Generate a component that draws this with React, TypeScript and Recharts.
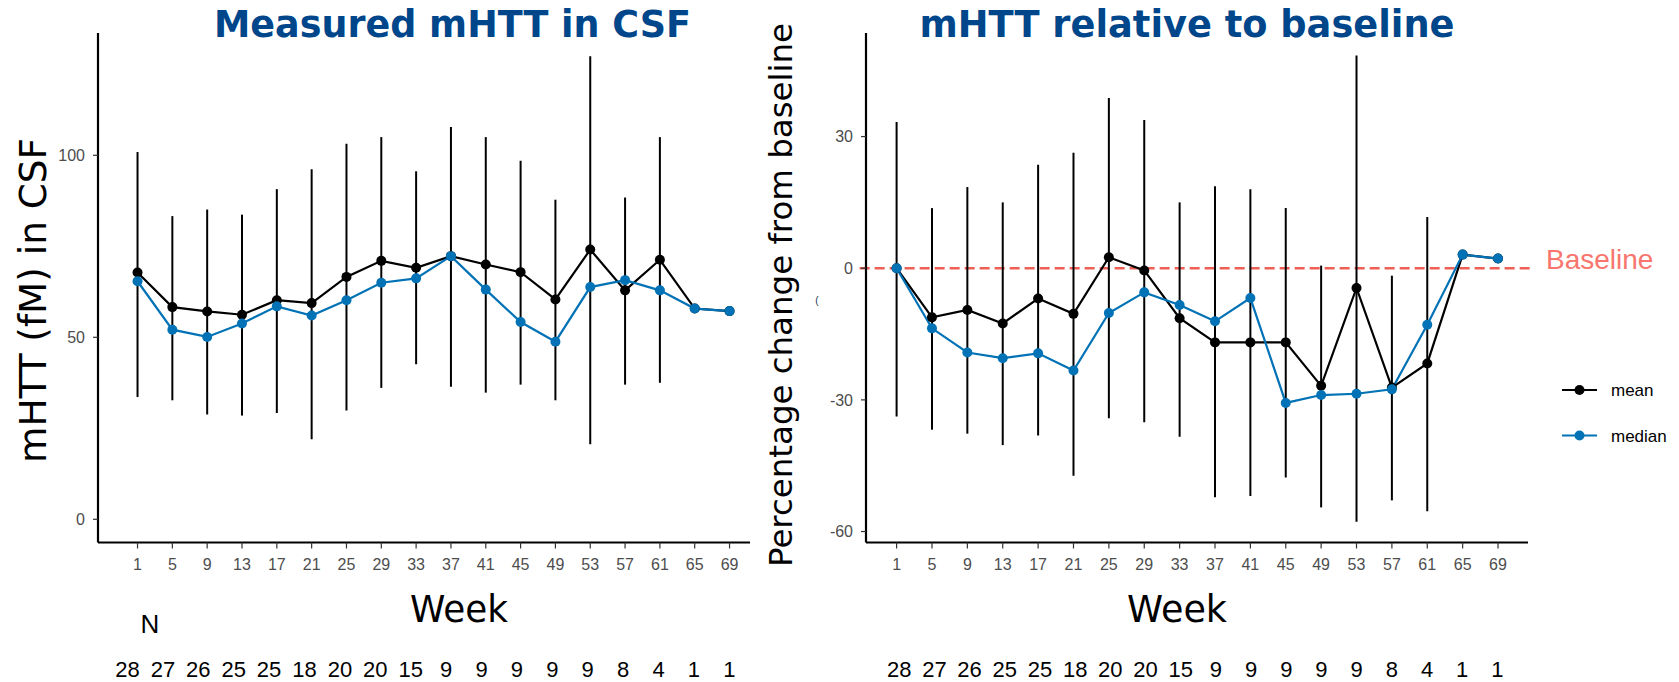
import React from 'react';
import { LineChart, Line, XAxis, YAxis, ErrorBar, ReferenceLine } from 'recharts';

// ---------- data ----------
const weeks = [1, 5, 9, 13, 17, 21, 25, 29, 33, 37, 41, 45, 49, 53, 57, 61, 65, 69];
const nCounts = [28, 27, 26, 25, 25, 18, 20, 20, 15, 9, 9, 9, 9, 9, 8, 4, 1, 1];

// left panel: measured mHTT (fM)
const absMean = [67.8, 58.3, 57.1, 56.2, 60.2, 59.4, 66.6, 71.0, 69.1, 72.3, 70.0, 67.9, 60.4, 74.1, 62.9, 71.3, 57.9, 57.2];
const absMedian = [65.4, 52.1, 50.1, 53.8, 58.5, 56.0, 60.2, 65.0, 66.2, 72.3, 63.1, 54.2, 48.8, 63.8, 65.7, 62.9, 57.9, 57.2];
const absUpper = [100.9, 83.3, 85.1, 83.7, 90.7, 96.2, 103.2, 105.0, 95.6, 107.8, 105.0, 98.5, 87.8, 127.2, 88.4, 105.0, null, null];
const absLower = [33.6, 32.7, 28.8, 28.5, 29.2, 22.0, 29.9, 36.1, 42.6, 36.4, 34.8, 37.0, 32.7, 20.6, 37.0, 37.5, null, null];

// right panel: percentage change from baseline
const relMean = [0, -11.2, -9.5, -12.6, -6.9, -10.4, 2.5, -0.5, -11.4, -16.9, -16.9, -16.9, -26.8, -4.5, -27.2, -21.7, 3.1, 2.2];
const relMedian = [0, -13.7, -19.2, -20.5, -19.4, -23.3, -10.2, -5.5, -8.4, -12.1, -6.8, -30.7, -28.9, -28.6, -27.6, -12.9, 3.1, 2.2];
const relUpper = [33.3, 13.7, 18.5, 15.0, 23.6, 26.3, 38.8, 33.8, 15.0, 18.7, 18.0, 13.7, 0.6, 48.5, -1.7, 11.7, null, null];
const relLower = [-33.8, -36.8, -37.7, -40.3, -38.1, -47.3, -34.2, -35.1, -38.4, -52.2, -51.9, -47.7, -54.5, -57.8, -52.9, -55.4, null, null];

const absTicks = [0, 50, 100];
const relTicks = [-60, -30, 0, 30];
const seriesNames = ['mean', 'median'];
const seriesColors = ['#000000', '#0072B5'];
const baselineSpan = [-3.18, 72.73];

const titles = ['Measured mHTT in CSF', 'mHTT relative to baseline'];
const yTitles = ['mHTT (fM) in CSF', 'Percentage change from baseline'];
const xTitle = 'Week';
const baselineText = 'Baseline';

// ---------- tables ----------
const buildTable = (mean: number[], median: number[], upper: (number | null)[], lower: (number | null)[]) =>
  weeks.map((w, i) => ({
    week: w,
    mean: mean[i],
    median: median[i],
    err: upper[i] == null || lower[i] == null ? null : [mean[i] - (lower[i] as number), (upper[i] as number) - mean[i]],
  }));

const absData = buildTable(absMean, absMedian, absUpper, absLower);
const relData = buildTable(relMean, relMedian, relUpper, relLower);

const TICK_FONT = { fill: '#4D4D4D', fontSize: 16, fontFamily: 'Liberation Sans, Arial, sans-serif' };
const SANS = 'Liberation Sans, Arial, sans-serif';
const DEJAVU = 'DejaVu Sans, Verdana, sans-serif';

const Panel = ({ data, width, margin, xDomain, yDomain, yTicks, baseline }: any) => (
  <LineChart width={width} height={682} data={data} margin={margin}>
    <XAxis
      dataKey="week"
      type="number"
      domain={xDomain}
      ticks={weeks}
      interval={0}
      allowDataOverflow
      height={40}
      tick={TICK_FONT}
      tickSize={6}
      tickMargin={10}
      tickLine={{ stroke: '#333333', strokeWidth: 1.2 }}
      axisLine={{ stroke: '#000000', strokeWidth: 2.2 }}
    />
    <YAxis
      type="number"
      domain={yDomain}
      ticks={yTicks}
      interval={0}
      allowDataOverflow
      width={60}
      tick={TICK_FONT}
      tickSize={5}
      tickMargin={8}
      tickLine={{ stroke: '#333333', strokeWidth: 1.2 }}
      axisLine={{ stroke: '#000000', strokeWidth: 2.2 }}
    />
    {baseline ? (
      <ReferenceLine
        segment={[{ x: baselineSpan[0], y: 0 }, { x: baselineSpan[1], y: 0 }]}
        stroke="#EE5F55"
        strokeWidth={2.5}
        strokeDasharray="10 5"
        ifOverflow="visible"
      />
    ) : null}
    <Line
      dataKey="mean"
      name={seriesNames[0]}
      stroke={seriesColors[0]}
      strokeWidth={2.2}
      dot={{ r: 5, fill: seriesColors[0], stroke: 'none' }}
      activeDot={false}
      isAnimationActive={false}
    >
      <ErrorBar dataKey="err" direction="y" width={0} stroke="#000000" strokeWidth={2} />
    </Line>
    <Line
      dataKey="median"
      name={seriesNames[1]}
      stroke={seriesColors[1]}
      strokeWidth={2.2}
      dot={{ r: 5, fill: seriesColors[1], stroke: 'none' }}
      activeDot={false}
      isAnimationActive={false}
    />
  </LineChart>
);

const Overlay = () => {
  const leftN = nCounts.map((n, i) => ({ n, x: 127.5 + i * 35.4 }));
  const rightN = nCounts.map((n, i) => ({ n, x: 899.2 + i * 35.19 }));
  return (
    <svg width={1679} height={682} style={{ position: 'absolute', left: 0, top: 0, pointerEvents: 'none' }}>
      {/* titles */}
      <text x={452.5} y={36.5} textAnchor="middle" fontFamily={DEJAVU} fontWeight="bold" fontSize={36.5} fill="#00468B" textLength={477} lengthAdjust="spacingAndGlyphs">
        {titles[0]}
      </text>
      <text x={1187} y={36.5} textAnchor="middle" fontFamily={DEJAVU} fontWeight="bold" fontSize={36.5} fill="#00468B" textLength={535} lengthAdjust="spacingAndGlyphs">
        {titles[1]}
      </text>
      {/* y axis titles */}
      <text transform="translate(46,300.5) rotate(-90)" textAnchor="middle" fontFamily={DEJAVU} fontSize={37} fill="#000" textLength={325} lengthAdjust="spacingAndGlyphs">
        {yTitles[0]}
      </text>
      <text transform="translate(792,295) rotate(-90)" textAnchor="middle" fontFamily={DEJAVU} fontSize={32} fill="#000" textLength={544} lengthAdjust="spacingAndGlyphs">
        {yTitles[1]}
      </text>
      <text x={817} y={304} textAnchor="middle" fontFamily={SANS} fontSize={10} fill="#22334a">(</text>
      {/* x axis titles */}
      <text x={459} y={622} textAnchor="middle" fontFamily={DEJAVU} fontSize={37} fill="#000" textLength={98} lengthAdjust="spacingAndGlyphs">
        {xTitle}
      </text>
      <text x={1177} y={622} textAnchor="middle" fontFamily={DEJAVU} fontSize={37} fill="#000" textLength={100} lengthAdjust="spacingAndGlyphs">
        {xTitle}
      </text>
      {/* N labels */}
      <text x={150} y={633} textAnchor="middle" fontFamily={SANS} fontSize={26} fill="#000">N</text>
      {leftN.map((d, i) => (
        <text key={'l' + i} x={d.x} y={676.5} textAnchor="middle" fontFamily={SANS} fontSize={22} fill="#000">{d.n}</text>
      ))}
      {rightN.map((d, i) => (
        <text key={'r' + i} x={d.x} y={676.5} textAnchor="middle" fontFamily={SANS} fontSize={22} fill="#000">{d.n}</text>
      ))}
      {/* baseline label */}
      <text x={1546} y={268.5} fontFamily={SANS} fontSize={28} fill="#F8766D">{baselineText}</text>
      {/* legend */}
      {seriesNames.map((name, i) => {
        const y = 390 + i * 45.5;
        return (
          <g key={name}>
            <line x1={1562} x2={1597} y1={y} y2={y} stroke={seriesColors[i]} strokeWidth={2.2} />
            <circle cx={1579.5} cy={y} r={5} fill={seriesColors[i]} />
            <text x={1611} y={y + 6} fontFamily={SANS} fontSize={17} fill="#000">{name}</text>
          </g>
        );
      })}
    </svg>
  );
};

export default function App() {
  return (
    <div style={{ position: 'absolute', left: 0, top: 0, width: 1679, height: 682, background: '#fff', overflow: 'hidden' }}>
      <div style={{ position: 'absolute', left: 0, top: 0 }}>
        <Panel
          data={absData}
          width={840}
          margin={{ top: 33, right: 90, left: 38, bottom: 99.5 }}
          xDomain={[-3.54, 71.35]}
          yDomain={[-6.37, 133.6]}
          yTicks={absTicks}
          baseline={false}
        />
      </div>
      <div style={{ position: 'absolute', left: 760, top: 0 }}>
        <Panel
          data={relData}
          width={919}
          margin={{ top: 33, right: 151, left: 46, bottom: 99.5 }}
          xDomain={[-2.46, 72.39]}
          yDomain={[-62.5, 53.6]}
          yTicks={relTicks}
          baseline={true}
        />
      </div>
      <Overlay />
    </div>
  );
}
